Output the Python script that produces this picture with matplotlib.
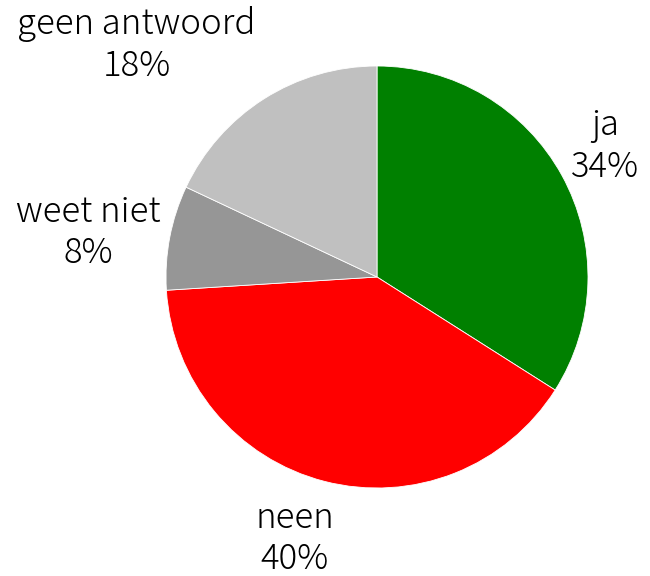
import matplotlib
matplotlib.use('Agg')
import matplotlib.pyplot as plt

labels = ['ja', 'neen', 'weet niet', 'geen antwoord']
values = [34, 40, 8, 18]
colors = ['#008000', '#ff0000', '#969696', '#c0c0c0']

# label centres in units of the pie radius, measured from its centre
label_pos = [(1.08, 0.62), (-0.39, -1.24), (-1.37, 0.21), (-1.14, 1.1)]

plt.rcParams['font.family'] = ['Noto Sans CJK JP', 'DejaVu Sans']

fig = plt.figure(figsize=(6.5, 5.76), dpi=100)
ax = fig.add_axes([0, 0, 1, 1])

ax.pie(values, colors=colors, startangle=90, counterclock=False, radius=1.0,
       wedgeprops={'edgecolor': 'white', 'linewidth': 0.6})

# pie centre sits at (377, 277) px with a 211 px radius
ax.set_xlim(-377 / 211.0, (650 - 377) / 211.0)
ax.set_ylim(-(576 - 277) / 211.0, 277 / 211.0)
ax.set_aspect('equal')
ax.axis('off')

for lab, v, (x, y) in zip(labels, values, label_pos):
    ax.text(x, y, '%s\n%d%%' % (lab, v), ha='center', va='center',
            fontsize=25, fontweight='light', linespacing=1.2, color='black')

plt.savefig('out.png', dpi=100)
